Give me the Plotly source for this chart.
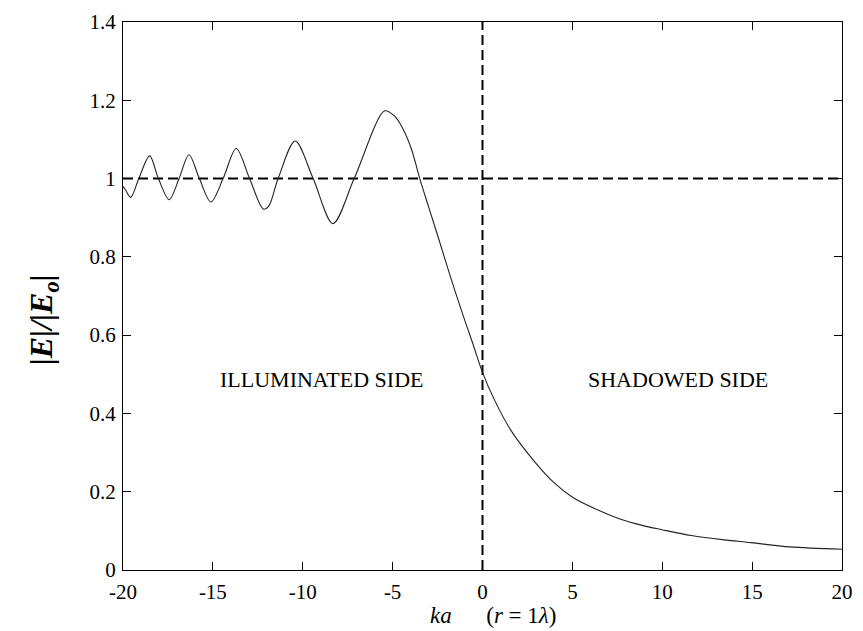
import plotly.graph_objects as go

# ---- data ----
ka = [-20.0, -19.87, -19.57, -19.12, -18.52, -18.03, -17.43, -16.88, -16.33, -15.75,
      -15.11, -14.43, -13.70, -12.96, -12.19, -11.90, -11.37, -10.42, -9.42, -8.32,
      -7.14, -5.44, -4.90, -4.40, -3.95, -3.49, -2.98, -2.43, -1.79, -1.15,
      -0.55, 0.0, 0.67, 1.59, 2.86, 3.96, 5.01, 6.15, 7.61, 8.88,
      9.98, 11.62, 13.44, 14.94, 17.1, 20.0]
field = [0.980, 0.972, 0.952, 1.000, 1.058, 1.000, 0.946, 1.000, 1.061, 1.000,
         0.940, 1.000, 1.077, 1.000, 0.922, 0.929, 1.000, 1.096, 1.000, 0.885,
         1.000, 1.173, 1.160, 1.125, 1.075, 1.000, 0.925, 0.845, 0.750, 0.660,
         0.580, 0.505, 0.434, 0.356, 0.279, 0.224, 0.186, 0.159, 0.131, 0.114,
         0.103, 0.088, 0.077, 0.070, 0.059, 0.053]

REF_LEVEL = 1.0        # incident-field level (dashed horizontal)
SHADOW_BOUNDARY = 0.0  # shadow boundary (dashed vertical)

x_ticks = [-20, -15, -10, -5, 0, 5, 10, 15, 20]
x_tick_text = ["-20", "-15", "-10", "-5", "0", "5", "10", "15", "20"]
y_ticks = [0, 0.2, 0.4, 0.6, 0.8, 1.0, 1.2, 1.4]
y_tick_text = ["0", "0.2", "0.4", "0.6", "0.8", "1", "1.2", "1.4"]

X_RANGE = [-20, 20]
Y_RANGE = [0, 1.4]

region_labels = ["ILLUMINATED SIDE", "SHADOWED SIDE"]
region_x = [-8.95, 10.86]
region_y = [0.486, 0.486]

FONT = "Liberation Serif, Times New Roman, serif"

fig = go.Figure()

# dashed reference lines
fig.add_trace(go.Scatter(x=X_RANGE, y=[REF_LEVEL, REF_LEVEL], mode="lines",
                         line=dict(color="black", width=2, dash="10px,5px"),
                         hoverinfo="skip", showlegend=False))
fig.add_trace(go.Scatter(x=[SHADOW_BOUNDARY, SHADOW_BOUNDARY], y=Y_RANGE, mode="lines",
                         line=dict(color="black", width=2, dash="10px,5px"),
                         hoverinfo="skip", showlegend=False))

# field curve
fig.add_trace(go.Scatter(x=ka, y=field, mode="lines",
                         line=dict(color="#222222", width=1.1, shape="spline", smoothing=0.9),
                         showlegend=False))

for t, xx, yy in zip(region_labels, region_x, region_y):
    fig.add_annotation(x=xx, y=yy, xref="x", yref="y", text=t, showarrow=False,
                       font=dict(family=FONT, size=22, color="black"),
                       xanchor="center", yanchor="middle")

# axis titles as annotations
fig.add_annotation(xref="paper", yref="paper", x=0.514, y=-0.0835,
                   text="<i>ka</i>\u00a0\u00a0\u00a0\u00a0\u00a0\u00a0(<i>r</i>\u00a0=\u00a01<i>\u03bb</i>)",
                   showarrow=False, xanchor="center", yanchor="middle",
                   borderpad=0,
                   font=dict(family=FONT, size=23, color="black"))
fig.add_annotation(xref="paper", yref="paper", x=-0.111, y=0.456,
                   text="<b><i>|E|/|E<sub>o</sub>|</i></b>", textangle=-90,
                   showarrow=False, xanchor="center", yanchor="middle",
                   font=dict(family=FONT, size=32, color="black"))

axis_common = dict(showline=True, linecolor="black", linewidth=1.2, mirror="ticks",
                   ticks="inside", ticklen=8, tickwidth=1, tickcolor="black",
                   showgrid=False, zeroline=False,
                   tickfont=dict(family=FONT, size=21, color="black"))

fig.update_xaxes(range=X_RANGE, tickvals=x_ticks, ticktext=x_tick_text,
                 ticklabelstandoff=3, **axis_common)
fig.update_yaxes(range=Y_RANGE, tickvals=y_ticks, ticktext=y_tick_text,
                 ticklabelstandoff=2, **axis_common)

fig.update_layout(width=863, height=631,
                  margin=dict(l=123, r=10, t=20, b=61),
                  paper_bgcolor="white", plot_bgcolor="white",
                  font=dict(family=FONT, color="black"))

fig.write_html("out.html")
